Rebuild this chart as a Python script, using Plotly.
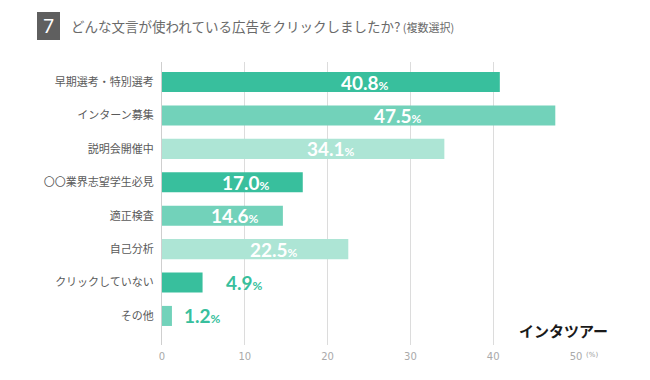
import plotly.graph_objects as go

categories = ["早期選考・特別選考", "インターン募集", "説明会開催中", "〇〇業界志望学生必見",
              "適正検査", "自己分析", "クリックしていない", "その他"]
values = [40.8, 47.5, 34.1, 17.0, 14.6, 22.5, 4.9, 1.2]
tick_vals = [0, 10, 20, 30, 40, 50]
tick_text = ["0", "10", "20", "30", "40", "50"]
outside_shift = {4.9: 21, 1.2: 10}

palette = ["#38bf9d", "#72d2ba", "#ade5d5"]
colors = [palette[i % 3] for i in range(len(values))]

fig = go.Figure(go.Bar(
    x=values, y=categories, orientation="h",
    marker=dict(color=colors, line=dict(width=0)),
    width=0.6, hoverinfo="skip",
))

fig.update_layout(
    width=650, height=380,
    margin=dict(l=162, r=74, t=62, b=35),
    paper_bgcolor="white", plot_bgcolor="white",
    showlegend=False,
    xaxis=dict(range=[0, 50], tickvals=tick_vals, ticktext=tick_text,
               showgrid=True, gridcolor="#dcdcdc", gridwidth=1, zeroline=False,
               tickfont=dict(family="DejaVu Sans", size=10, color="#aaa"),
               ticks="", ticklen=0, showline=False, fixedrange=True,
               ticklabelstandoff=4),
    yaxis=dict(categoryorder="array", categoryarray=categories,
               range=[7.87, -0.6], showgrid=False, zeroline=False,
               showline=True, linecolor="#cfcfcf", linewidth=1,
               tickfont=dict(family="Noto Sans CJK JP", size=11, color="#5a5a5a"),
               ticks="", ticklabelstandoff=5, fixedrange=True),
    font=dict(family="Noto Sans CJK JP"),
)

for cat, v in zip(categories, values):
    label = f"<b>{v:.1f}</b><span style='font-size:12px'><b>%</b></span>"
    if v > 10:
        fig.add_annotation(x=v * 0.6, y=cat, xref="x", yref="y", text=label,
                           showarrow=False, xanchor="center", yanchor="middle",
                           font=dict(family="Lato", size=19, color="white"))
    else:
        fig.add_annotation(x=v, y=cat, xref="x", yref="y", text=label,
                           showarrow=False, xanchor="left", yanchor="middle",
                           xshift=outside_shift.get(v, 10),
                           font=dict(family="Lato", size=19, color="#38bf9d"))

shapes = [dict(type="rect", xref="paper", yref="paper",
               x0=(37 - 162) / 414, x1=(60 - 162) / 414,
               y0=(380 - 35 - 12) / 283, y1=(380 - 35 - 40) / 283,
               fillcolor="#5f5f5f", line=dict(width=0), layer="above")]
fig.update_layout(shapes=shapes)

fig.add_annotation(text="7", xref="paper", yref="paper",
                   x=(48.5 - 162) / 414, y=(380 - 35 - 26) / 283,
                   showarrow=False, font=dict(family="Lato", size=19, color="white"),
                   xanchor="center", yanchor="middle")
fig.add_annotation(text="どんな文言が使われている広告をクリックしましたか?<span style='font-size:11px'> (複数選択)</span>",
                   xref="paper", yref="paper",
                   x=(69 - 162) / 414, y=(380 - 35 - 26) / 283,
                   showarrow=False, font=dict(family="Noto Sans CJK JP", size=13.5, color="#6a6a6a"),
                   xanchor="left", yanchor="middle")
fig.add_annotation(text="(%)", xref="x", yref="paper", x=50, y=0,
                   xshift=8, yshift=-10, showarrow=False,
                   font=dict(family="DejaVu Sans", size=7, color="#999"),
                   xanchor="left", yanchor="middle")
fig.add_annotation(text="<b>インタツアー</b>", xref="paper", yref="paper",
                   x=(563 - 162) / 414, y=(380 - 35 - 330) / 283,
                   showarrow=False, font=dict(family="Noto Sans CJK JP", size=15, color="#1a1a1a"),
                   xanchor="center", yanchor="middle")

fig.write_html("out.html", config={"displayModeBar": False},
               post_script="document.body.style.margin='0';")
